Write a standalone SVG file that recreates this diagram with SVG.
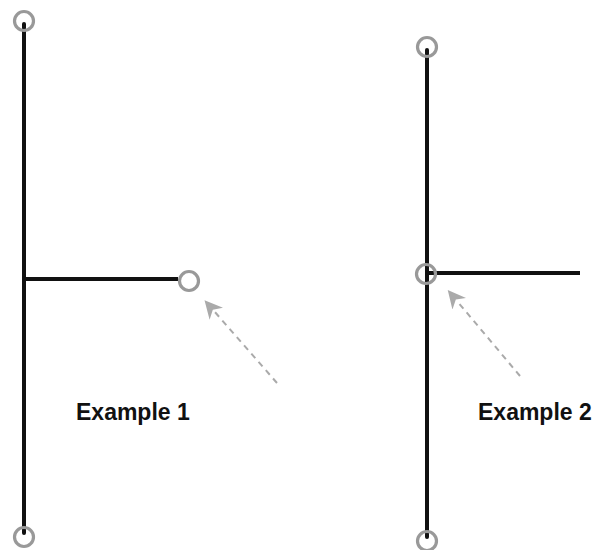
<svg xmlns="http://www.w3.org/2000/svg" width="598" height="550" viewBox="0 0 598 550">
<defs>
<style>
.ln{stroke:#111;stroke-width:4;fill:none;stroke-linecap:butt}
.pt{stroke:#999;stroke-width:3.2;fill:none}
.dot{fill:#111}
.ar{stroke:#aaa;stroke-width:2;stroke-dasharray:6,5;fill:none}
.lbl{font-family:"Liberation Sans",Arial,sans-serif;font-size:23px;font-weight:bold;fill:#111}
</style>
<marker id="ah" viewBox="0 0 10 10" refX="2" refY="5" markerWidth="9" markerHeight="9" orient="auto" markerUnits="strokeWidth">
<path d="M0,0 L10,5 L0,10 L3,5 Z" fill="#aaa"/>
</marker>
</defs>
<g id="connectors">
<line class="ln" x1="24" y1="24" x2="24" y2="533"/>
<line class="ln" x1="24" y1="279" x2="178" y2="279"/>
<line class="ln" x1="427" y1="50" x2="427" y2="537"/>
<line class="ln" x1="427" y1="273" x2="580" y2="273"/>
<line class="ar" x1="277" y1="383" x2="214" y2="311" marker-end="url(#ah)"/>
<line class="ar" x1="520" y1="376" x2="457" y2="301" marker-end="url(#ah)"/>
</g>
<g id="ex1-top"><circle class="pt" cx="24" cy="21" r="9.5"/><circle class="dot" cx="24" cy="24" r="2"/></g>
<g id="ex1-bottom"><circle class="pt" cx="24" cy="537" r="9.5"/><circle class="dot" cx="24" cy="533" r="2"/></g>
<g id="ex1-end"><circle class="pt" cx="189" cy="281" r="9.5"/></g>
<g id="ex2-top"><circle class="pt" cx="427" cy="47" r="9.5"/><circle class="dot" cx="427" cy="50" r="2"/></g>
<g id="ex2-bottom"><circle class="pt" cx="427" cy="541" r="9.5"/><circle class="dot" cx="427" cy="537" r="2"/></g>
<g id="ex2-joint"><circle class="pt" cx="426" cy="274" r="9.5"/></g>
<g id="label1"><text class="lbl" x="76" y="420">Example 1</text></g>
<g id="label2"><text class="lbl" x="478" y="420">Example 2</text></g>
</svg>
